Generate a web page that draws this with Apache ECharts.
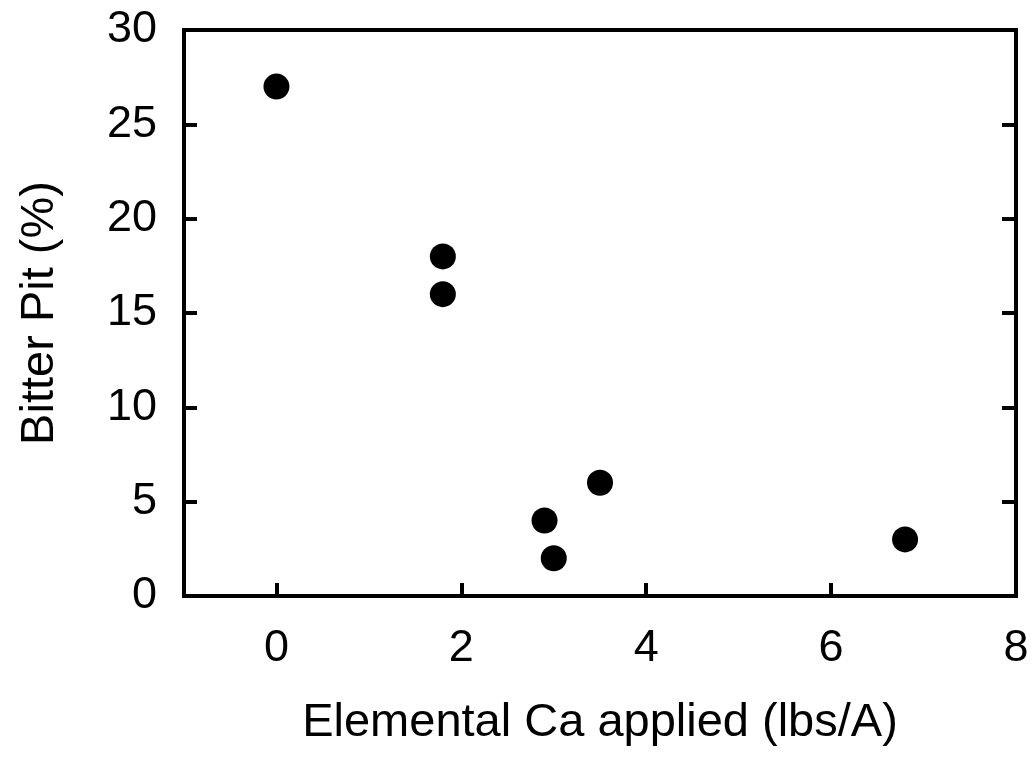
<!DOCTYPE html>
<html>
<head>
<meta charset="utf-8">
<script src="https://cdn.jsdelivr.net/npm/echarts@6/dist/echarts.min.js"></script>
<style>
  html, body { margin: 0; padding: 0; background: #fff; }
  #chart { width: 1034px; height: 764px; }
</style>
</head>
<body>
<div id="chart"></div>
<script>
// Calcium applied vs. bitter pit incidence
const caApplied = [0, 1.8, 1.8, 2.9, 3.0, 3.5, 6.8];
const bitterPit = [27, 18, 16, 4, 2, 6, 3];
const xTicks = [0, 2, 4, 6, 8];
const yTicks = [0, 5, 10, 15, 20, 25, 30];
const xTitle = 'Elemental Ca applied (lbs/A)';
const yTitle = 'Bitter Pit (%)';

const points = caApplied.map((x, i) => [x, bitterPit[i]]);
const font = 'Liberation Sans, Arial, sans-serif';

const chart = echarts.init(document.getElementById('chart'), null, { renderer: 'canvas' });
chart.setOption({
  animation: false,
  backgroundColor: '#ffffff',
  grid: {
    left: 184, right: 18, top: 30, bottom: 168,
    containLabel: false, outerBoundsMode: 'none',
    show: true, borderColor: '#000', borderWidth: 4, backgroundColor: 'transparent'
  },
  xAxis: {
    type: 'value', min: -1, max: 8,
    name: xTitle, nameLocation: 'middle', nameGap: 104,
    nameTextStyle: { fontFamily: font, fontSize: 47, color: '#000' },
    axisLine: { show: false, onZero: false },
    axisTick: { show: true, inside: true, length: 13, customValues: xTicks, lineStyle: { color: '#000', width: 4 } },
    axisLabel: { fontFamily: font, fontSize: 45, color: '#000', margin: 30, customValues: xTicks },
    splitLine: { show: false }
  },
  yAxis: [{
    type: 'value', min: 0, max: 30,
    name: yTitle, nameLocation: 'middle', nameGap: 120, nameRotate: 90,
    nameTextStyle: { fontFamily: font, fontSize: 47, color: '#000' },
    axisLine: { show: false, onZero: false },
    axisTick: { show: true, inside: true, length: 13, customValues: yTicks, lineStyle: { color: '#000', width: 4 } },
    axisLabel: { fontFamily: font, fontSize: 45, color: '#000', margin: 27, customValues: yTicks },
    splitLine: { show: false }
  }, {
    type: 'value', min: 0, max: 30, position: 'right',
    axisLine: { show: false, onZero: false },
    axisTick: { show: true, inside: true, length: 14, customValues: yTicks, lineStyle: { color: '#000', width: 4 } },
    axisLabel: { show: false },
    splitLine: { show: false }
  }],
  series: [{
    type: 'scatter',
    data: points,
    symbol: 'circle',
    symbolSize: 26,
    itemStyle: { color: '#000', opacity: 1 }
  }]
});
</script>
</body>
</html>
